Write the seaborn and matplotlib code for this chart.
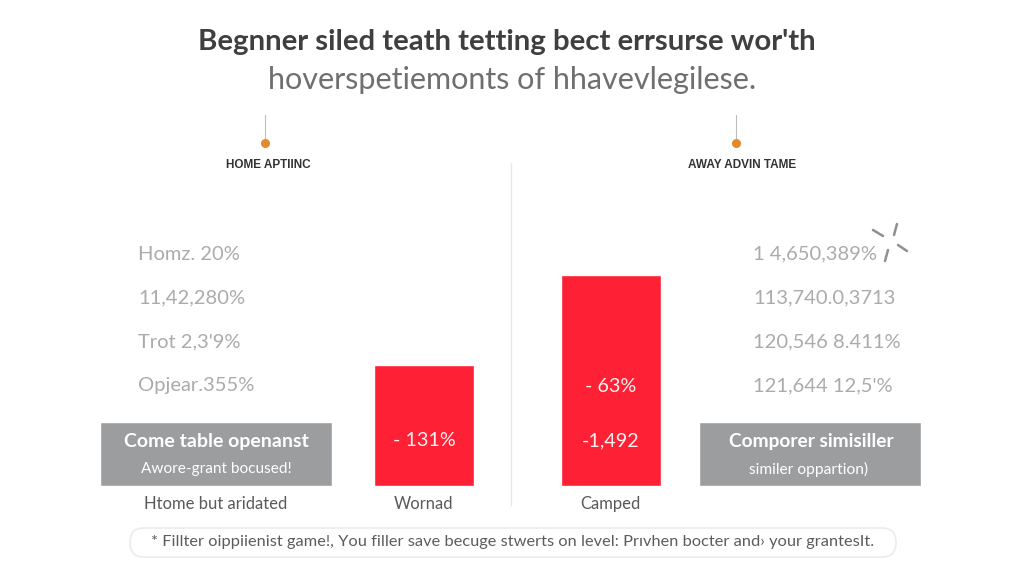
import matplotlib
matplotlib.use('Agg')
import matplotlib.pyplot as plt
from matplotlib.patches import FancyBboxPatch
import seaborn as sns

# values
categories = ['Wornad', 'Camped']
red_heights = [121, 211]
red_labels = [['- 131%'], ['- 63%', '-1,492']]
box_height = [64]
box_left_cat = ['Htome but aridated']
box_right_cat = ['Comporer similiar']
left_rows = ['Homz. 20%', '11,42,280%', 'Trot 2,3\'9%', 'Opjear.355%']
right_rows = ['1 4,650,389%', '113,740.0,3713', '120,546 8.411%', '121,644 12,5\'%']
title_1 = "Begnner siled teath tetting bect errsurse wor'th"
title_2 = 'hoverspetiemonts of hhavevlegilese.'
footnote = '* Fillter oippiienist game!, You filler save becuge stwerts on level: Prıvhen bocter and› your grantesIt.'

W, H = 1024, 585
BASE, TOP = 486, 160
RED = '#fe2034'
GREY = '#9c9d9e'

sns.set_theme(style='white')
plt.rcParams['font.family'] = ['Lato', 'DejaVu Sans']

fig = plt.figure(figsize=(W / 100, H / 100), dpi=100)


def px_axes(x0, x1):
    return fig.add_axes([x0 / W, 1 - BASE / H, (x1 - x0) / W, (BASE - TOP) / H])


def setup(ax):
    ax.set_ylim(0, BASE - TOP)
    ax.set_ylabel('')
    ax.set_xlabel('')
    ax.set_yticks([])
    ax.patch.set_alpha(0)
    ax.tick_params(axis='x', length=0, pad=7, labelsize=12, labelcolor='#5a5a5a')
    sns.despine(ax=ax, left=True, bottom=True)


# red bars, 187 px between centres
ax_mid = px_axes(423.5 - 0.5 * 187, 610.5 + 0.5 * 187)
sns.barplot(x=categories, y=red_heights, color=RED, saturation=1, width=100 / 187, ax=ax_mid)
setup(ax_mid)

# grey boxes are single full width bars
ax_l = px_axes(99.5, 331.5)
sns.barplot(x=box_left_cat, y=box_height, color=GREY, saturation=1, width=1, ax=ax_l)
setup(ax_l)
ax_l.set_xlim(-0.5, 0.5)

ax_r = px_axes(698.5, 920.5)
sns.barplot(x=box_right_cat, y=box_height, color=GREY, saturation=1, width=1, ax=ax_r)
setup(ax_r)
ax_r.set_xlim(-0.5, 0.5)
ax_r.set_xticks([])

# overlay in pixel coordinates for the text and small marks
ov = fig.add_axes([0, 0, 1, 1], zorder=5)
ov.set_xlim(0, W)
ov.set_ylim(H, 0)
ov.axis('off')


def txt(x, y, s, size, color, weight='normal', ha='center', **kw):
    ov.text(x, y, s, fontsize=size, color=color, fontweight=weight, ha=ha, va='center', **kw)


txt(507, 42, title_1, 21.2, '#3f3f41', 'bold')
txt(512, 80, title_2, 22, '#6f6f70')

ov.plot([511, 511], [163, 505], color='#e8e8e8', lw=1)

for x, hx, label in [(265, 268, 'HOME APTIINC'), (736, 742, 'AWAY ADVIN TAME')]:
    ov.plot([x, x], [115, 141], color='#bdbdbd', lw=0.8)
    ov.plot([x], [143], 'o', color='#e58a2c', ms=5.5)
    txt(hx, 165, label, 8.5, '#333333', 'bold', family=['Liberation Sans', 'DejaVu Sans'])

for y, a, b in zip([254, 298, 342, 386], left_rows, right_rows):
    txt(138, y, a, 14.5, '#ababab', ha='left')
    txt(753, y, b, 14.5, '#ababab', ha='left')

# little burst next to the first right row
for x0, y0, x1, y1 in [(873, 230, 883, 236), (897, 224, 894, 235), (898, 245, 907, 251), (888, 250, 885, 261)]:
    ov.plot([x0, x1], [y0, y1], color='#8f8f8f', lw=1.8, solid_capstyle='round')

txt(216, 441, 'Come table openanst', 14, 'white', 'bold')
txt(216, 469, 'Awore-grant bocused!', 11.1, 'white')
txt(811, 441, 'Comporer simisiller', 13.8, 'white', 'bold')
txt(809, 469, 'similer oppartion)', 11.2, 'white')

for cx, ys, labels in [(424, [441], red_labels[0]), (611, [387, 441], red_labels[1])]:
    for y, s in zip(ys, labels):
        txt(cx, y, s, 14.2, '#fff0f0')

ov.add_patch(FancyBboxPatch((130, 528), 766, 29, boxstyle='round,pad=0,rounding_size=14',
                            fc='white', ec='#ececec', lw=1.2))
txt(513, 542, footnote, 11.8, '#5c5c5c')

fig.savefig('out.png', dpi=100, facecolor='white')
